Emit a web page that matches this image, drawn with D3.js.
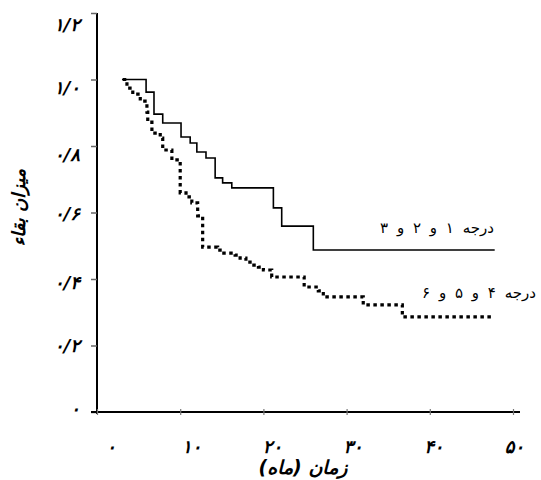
<!DOCTYPE html>
<html>
<head>
<meta charset="utf-8">
<script src="https://cdn.jsdelivr.net/npm/d3@7"></script>
<style>
  html, body { margin: 0; padding: 0; background: #fff; }
  svg { display: block; }
  text { font-family: "DejaVu Sans", sans-serif; fill: #000; }
</style>
</head>
<body>
<svg id="chart" width="541" height="480"></svg>
<script>
// ---------- data ----------
const xTicks = [0, 10, 20, 30, 40, 50];
const xTickLabels = ["۰", "۱۰", "۲۰", "۳۰", "۴۰", "۵۰"];
const yTicks = [0, 0.2, 0.4, 0.6, 0.8, 1.0, 1.2];
const yTickLabels = ["۰", "۰/۲", "۰/۴", "۰/۶", "۰/۸", "۱/۰", "۱/۲"];

// grade 1, 2, 3 (solid step curve)
const grade123Time = [3.0, 5.9, 6.85, 7.9, 10.1, 11.2, 12.0, 13.1, 14.2, 15.1, 16.2, 21.2, 22.2, 26.0, 47.8];
const grade123Surv = [1.0, 0.962, 0.896, 0.869, 0.827, 0.809, 0.782, 0.764, 0.704, 0.689, 0.674, 0.614, 0.559, 0.487, 0.487];

// grade 4, 5, 6 (dotted step curve)
const grade456Time = [3.1, 3.6, 4.3, 5.2, 6.0, 6.1, 6.6, 7.6, 7.9, 9.0, 10.0, 10.7, 11.4, 12.1, 12.7, 14.5, 15.0, 16.6, 17.2, 17.9, 18.4, 19.4, 20.0, 21.0, 24.9, 26.6, 27.2, 32.0, 36.7, 47.5];
const grade456Surv = [1.0, 0.974, 0.956, 0.935, 0.902, 0.872, 0.839, 0.824, 0.788, 0.758, 0.659, 0.647, 0.629, 0.590, 0.496, 0.487, 0.478, 0.472, 0.463, 0.451, 0.442, 0.436, 0.427, 0.406, 0.376, 0.364, 0.346, 0.322, 0.286, 0.286];

const seriesLabels = ["درجه ۱ و ۲ و ۳", "درجه ۴ و ۵ و ۶"];
const xTitle = "زمان (ماه)";
const yTitle = "میزان بقاء";

// ---------- layout ----------
const svg = d3.select("#chart");
const x = d3.scaleLinear().domain([0, 50]).range([97, 513]);
const y = d3.scaleLinear().domain([0, 1.2]).range([412, 13]);

// axes
const yAxis = d3.axisLeft(y)
  .tickValues(yTicks)
  .tickFormat((d, i) => yTickLabels[i])
  .tickSizeInner(6).tickSizeOuter(0).tickPadding(11);
const gy = svg.append("g").attr("transform", `translate(${x(0)},0)`).call(yAxis);
gy.select(".domain").attr("stroke", "#000").attr("stroke-width", 2)
  .attr("d", `M0,${y(0) + 2}V${y(1.2)}`);
gy.selectAll(".tick line").attr("stroke", "#666").attr("stroke-width", 1.5);
const yLabelShift = (d) => d > 1.1 ? 11 : d > 0.9 ? 8 : d > 0.7 ? 8 : d > 0.5 ? 1 : d > 0.3 ? 3 : d > 0.1 ? 0 : -4;
gy.selectAll(".tick text")
  .attr("font-size", 18).attr("font-weight", "bold").attr("font-style", "italic")
  .attr("letter-spacing", 1)
  .attr("y", (d) => yLabelShift(d))
  .attr("dy", "0.35em");

const xAxis = d3.axisBottom(x)
  .tickValues(xTicks)
  .tickFormat((d, i) => xTickLabels[i])
  .tickSizeInner(3).tickSizeOuter(0).tickPadding(25);
const gx = svg.append("g").attr("transform", `translate(0,${y(0)})`).call(xAxis);
gx.select(".domain").attr("stroke", "#000").attr("stroke-width", 2)
  .attr("d", `M${x(0) - 6},0H${x(50) + 7}`);
gx.selectAll(".tick line").attr("stroke", "#777").attr("stroke-width", 1.2)
  .attr("y1", -3).attr("y2", 3);
gx.selectAll(".tick text")
  .attr("font-size", 18).attr("font-weight", "bold").attr("font-style", "italic")
  .attr("letter-spacing", 1)
  .attr("dx", (d) => (50 - d) * 0.25 + 1);

// axis titles
svg.append("text")
  .attr("x", x(25) - 2).attr("y", 474)
  .attr("text-anchor", "middle").attr("direction", "rtl")
  .attr("font-size", 19).attr("font-weight", "bold").attr("font-style", "italic")
  .attr("letter-spacing", 1.5)
  .text(xTitle);

svg.append("text")
  .attr("transform", `translate(25,${y(0.615)}) rotate(-90)`)
  .attr("text-anchor", "middle").attr("direction", "rtl")
  .attr("font-size", 18).attr("font-weight", "bold").attr("font-style", "italic")
  .attr("letter-spacing", 1.5)
  .text(yTitle);

// curves
const line = d3.line()
  .x((d) => x(d[0]))
  .y((d) => y(d[1]))
  .curve(d3.curveStepAfter);

const solidData = grade123Time.map((t, i) => [t, grade123Surv[i]]);
const dottedData = grade456Time.map((t, i) => [t, grade456Surv[i]]);

svg.append("path")
  .datum(solidData)
  .attr("fill", "none").attr("stroke", "#000").attr("stroke-width", 1.6)
  .attr("d", line);

svg.append("path")
  .datum(dottedData)
  .attr("fill", "none").attr("stroke", "#000").attr("stroke-width", 3.2)
  .attr("stroke-dasharray", "3.5,3.5")
  .attr("d", line);

// series labels
svg.append("text")
  .attr("x", 489).attr("y", y(0.487) - 17)
  .attr("text-anchor", "middle")
  .attr("transform", "translate(-52,0)")
  .attr("font-size", 15)
  .attr("word-spacing", 4)
  .text(seriesLabels[0]);

svg.append("text")
  .attr("x", 540).attr("y", y(0.286) - 19)
  .attr("text-anchor", "middle")
  .attr("transform", "translate(-61,0)")
  .attr("font-size", 15)
  .attr("word-spacing", 4)
  .text(seriesLabels[1]);
</script>
</body>
</html>
